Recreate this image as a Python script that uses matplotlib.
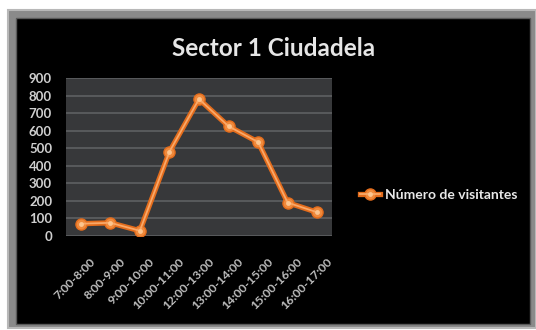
import matplotlib
matplotlib.use("Agg")
import matplotlib.pyplot as plt
import matplotlib.transforms as mtransforms
from matplotlib.patches import Rectangle
from matplotlib.legend_handler import HandlerTuple

# Visitors per hour slot
franjas = ["7:00-8:00", "8:00-9:00", "9:00-10:00", "10:00-11:00", "12:00-13:00",
           "13:00-14:00", "14:00-15:00", "15:00-16:00", "16:00-17:00"]
visitantes = [70, 75, 30, 480, 780, 625, 535, 190, 135]
y_ticks = [0, 100, 200, 300, 400, 500, 600, 700, 800, 900]

plt.rcParams['font.family'] = ['Lato', 'DejaVu Sans']

W, H = 536, 330
fig = plt.figure(figsize=(W / 100, H / 100), dpi=100)
fig.patch.set_facecolor("white")

# chart frame: grey bevel around a black chart area
fig.patches.append(Rectangle((8 / W, 1 - 328 / H), (536 - 8) / W, (328 - 10) / H,
                             transform=fig.transFigure, facecolor="#8a8a8a",
                             edgecolor="#b8b8b8", linewidth=1.5, zorder=0))
fig.patches.append(Rectangle((16 / W, 1 - 324 / H), (530 - 16) / W, (324 - 18) / H,
                             transform=fig.transFigure, facecolor="black",
                             edgecolor="#5a5a5a", linewidth=1, zorder=0))

ax = fig.add_axes([66 / W, 1 - 236 / H, (332 - 66) / W, (236 - 78) / H])
ax.set_zorder(2)
ax.set_facecolor("#37383a")
for s in ax.spines.values():
    s.set_visible(False)

x = range(len(franjas))
base, = ax.plot(x, visitantes, color="#e36c1c", linewidth=3.8, marker="o",
                markersize=8, markerfacecolor="#f08a3c", markeredgecolor="#e36c1c",
                zorder=3)
glow, = ax.plot(x, visitantes, color="#f9a868", linewidth=1.3, marker="o",
                markersize=3.5, markerfacecolor="#fcc58f", markeredgecolor="none",
                zorder=4)

ax.set_xlim(-0.5, len(franjas) - 0.5)
ax.set_ylim(0, 900)
ax.set_yticks(y_ticks)
ax.yaxis.grid(True, color="#5e6062", linewidth=1.2)
ax.set_axisbelow(True)
ax.tick_params(axis="both", length=0, colors="#cfcfcf")
ax.tick_params(axis="y", pad=10)
for t in ax.get_yticklabels():
    t.set_fontsize(9.5)
    t.set_fontweight("bold")

ax.set_xticks(list(x))
ax.set_xticklabels(franjas, rotation=45, ha="right", rotation_mode="anchor",
                   fontsize=8.8, fontweight="bold", color="#bdbdbd")
shift = mtransforms.ScaledTranslation(9 / 100, -15 / 100, fig.dpi_scale_trans)
for t in ax.get_xticklabels():
    t.set_transform(t.get_transform() + shift)

fig.text(274 / W, 1 - 48 / H, "Sector 1 Ciudadela", ha="center", va="center",
         fontsize=17.5, fontweight="bold", color="#e6e6e6", zorder=3)

leg = fig.legend([(base, glow)], ["Número de visitantes"],
                 handler_map={tuple: HandlerTuple(ndivide=1)},
                 loc="center left", bbox_to_anchor=(354 / W, 1 - 195 / H),
                 frameon=False, fontsize=10, handlelength=1.5,
                 handletextpad=0.3, borderaxespad=0)
leg.set_zorder(3)
for t in leg.get_texts():
    t.set_color("#e8e8e8")
    t.set_fontweight("bold")

fig.savefig("out.png", dpi=100, facecolor=fig.get_facecolor())
